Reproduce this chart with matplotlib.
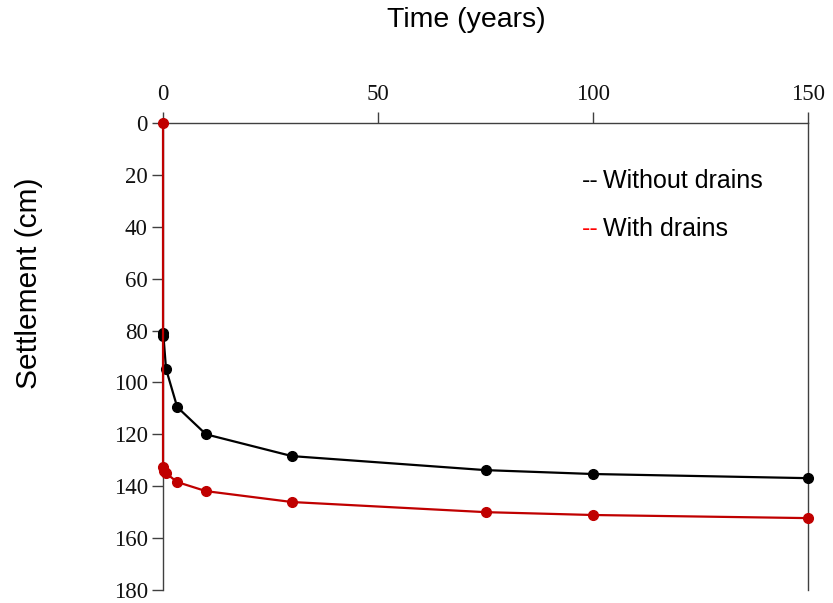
import matplotlib.pyplot as plt

# time (years) and settlement (cm)
t_without = [0, 0.1, 0.7, 3.3, 10, 30, 75, 100, 150]
s_without = [81, 82, 94.8, 109.5, 120, 128.4, 133.8, 135.3, 136.9]

t_with = [0, 0, 0.2, 0.7, 3.3, 10, 30, 75, 100, 150]
s_with = [0, 132.6, 134, 135, 138.4, 141.9, 146.1, 150, 151.1, 152.3]

xticks = [0, 50, 100, 150]
yticks = [0, 20, 40, 60, 80, 100, 120, 140, 160, 180]

fig = plt.figure(figsize=(8.33, 6.03), dpi=100)
ax = fig.add_axes([0.1957, 0.0216, 0.7743, 0.7744])

ax.plot(t_without, s_without, color='black', lw=1.6, marker='o', ms=7,
        zorder=4, clip_on=False)
ax.plot(t_with, s_with, color='#C00000', lw=1.6, marker='o', ms=7,
        zorder=5, clip_on=False)

ax.set_xlim(0, 150)
ax.set_ylim(180, 0)
ax.xaxis.tick_top()
ax.set_xticks(xticks)
ax.set_yticks(yticks)
ax.tick_params(axis='both', direction='out', length=8, width=1, colors='#404040',
               labelcolor='#111111', labelsize=16.5)
ax.tick_params(axis='y', right=False, pad=3)
ax.tick_params(axis='x', pad=5)
for lbl in ax.get_xticklabels() + ax.get_yticklabels():
    lbl.set_family('Liberation Serif')

ax.spines['bottom'].set_visible(False)
for side in ['top', 'left', 'right']:
    ax.spines[side].set_color('#404040')
    ax.spines[side].set_linewidth(1)

ax.xaxis.set_label_position('top')
ax.set_xlabel('Time (years)', fontsize=20.5, family='Liberation Sans')
ax.xaxis.set_label_coords(0.471, 1.2206)
ax.xaxis.label.set_va('center')
ax.set_ylabel('Settlement (cm)', fontsize=21.5, family='Liberation Sans')
ax.yaxis.set_label_coords(-0.208, 0.657)
ax.yaxis.label.set_va('center')

# legend drawn as in the original: short dashes followed by the label
labels = ['Without drains', 'With drains']
colors = ['black', 'red']
ypos = [181, 229]
for lab, col, yp in zip(labels, colors, ypos):
    fig.text(582 / 833, 1 - yp / 603, '--', color=col, fontsize=18,
             family='Liberation Sans', va='center')
    fig.text(603 / 833, 1 - yp / 603, lab, color='black', fontsize=18,
             family='Liberation Sans', va='center')

plt.savefig('out.png', dpi=100)
